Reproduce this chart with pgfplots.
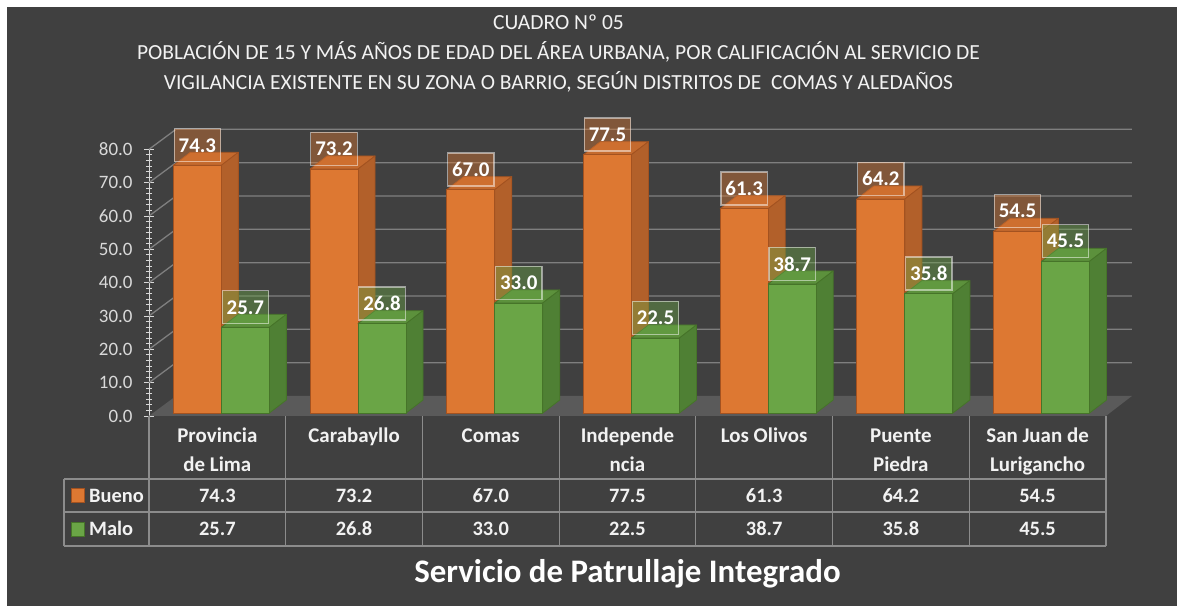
\documentclass[border=0pt]{standalone}
\usepackage{pgfplots}
\pgfplotsset{compat=1.18}
\usepackage{pgfplotstable}
\usepackage{fontspec}
\setmainfont{Carlito}
\definecolor{panel}{HTML}{404040}
\definecolor{floorc}{HTML}{5A5A5A}
\definecolor{gridc}{HTML}{7F7F7F}
\definecolor{tablec}{HTML}{8C8C8C}
\definecolor{txt}{HTML}{F2F2F2}
\definecolor{ticktxt}{HTML}{D9D9D9}
\definecolor{oF}{HTML}{DD7832}
\definecolor{oS}{HTML}{B2602A}
\definecolor{oT}{HTML}{C46A2E}
\definecolor{oE}{HTML}{A35220}
\definecolor{gF}{HTML}{6AA546}
\definecolor{gS}{HTML}{4F8034}
\definecolor{gT}{HTML}{5C913C}
\definecolor{gE}{HTML}{467429}

\pgfdeclareplotmark{void}{}

\pgfplotstableread{
x bueno malo
0 74.3 25.7
1 73.2 26.8
2 67.0 33.0
3 77.5 22.5
4 61.3 38.7
5 64.2 35.8
6 54.5 45.5
}\datatable

\pgfplotsset{
  box3d/.style n args={6}{%
    scatter, only marks, mark=void, point meta=y,
    visualization depends on={y \as \val},
    scatter/@pre marker code/.code={%
      \pgfmathsetmacro\bh{\val*3.33333}%
      \filldraw[fill=#5, draw=#6, line width=0.8bp, line join=round]
        (#1bp,3bp) -- ({#1bp+17bp},16bp) -- ({#2bp+17bp},16bp) -- (#2bp,3bp) -- cycle;
      \filldraw[fill=#4, draw=#6, line width=0.8bp, line join=round]
        (#2bp,{3bp-\bh bp}) -- ({#2bp+17bp},{16bp-\bh bp}) -- ({#2bp+17bp},16bp) -- (#2bp,3bp) -- cycle;
      \filldraw[fill=#3, draw=#6, line width=0.8bp]
        (#1bp,{3bp-\bh bp}) rectangle (#2bp,3bp);
    },
    scatter/@post marker code/.code={},
  },
  lab3d/.style n args={2}{%
    scatter, only marks, mark=void, point meta=y,
    visualization depends on={y \as \val},
    scatter/@pre marker code/.code={%
      \node[anchor=south, fill=#2, fill opacity=0.42, draw=white, draw opacity=0.5,
        text opacity=1, text=white, line width=1.2bp, inner xsep=4.5bp, inner ysep=0pt,
        minimum height=33bp, font=\fontsize{21}{22}\selectfont\bfseries]
        at (#1bp,6bp) {\pgfmathprintnumber[fixed,fixed zerofill,precision=1,assume math mode=true]{\val}};
    },
    scatter/@post marker code/.code={},
  },
}

\begin{document}
\begin{tikzpicture}[x=1bp,y=1bp]
\useasboundingbox (0,0) rectangle (1177,606);
\fill[white] (0,0) rectangle (1177,606);
\fill[panel] (7,0) rectangle (1177,599);

% titles
\node[anchor=base, text=txt, font=\fontsize{21.6}{24}\selectfont] at (558.5,576) {CUADRO Nº 05};
\node[anchor=base, text=txt, font=\fontsize{21.6}{24}\selectfont] at (558.5,546.5) {POBLACIÓN DE 15 Y MÁS AÑOS DE EDAD DEL ÁREA URBANA, POR CALIFICACIÓN AL SERVICIO DE};
\node[anchor=base, text=txt, font=\fontsize{21.6}{24}\selectfont] at (558.5,516.7) {VIGILANCIA EXISTENTE EN SU ZONA O BARRIO, SEGÚN DISTRITOS DE \ COMAS Y ALEDAÑOS};

\begin{axis}[
  at={(149bp,190bp)}, anchor=south west,
  x=136.7bp, y=3.33333bp,
  xmin=-0.5, xmax=6.5, ymin=0, ymax=80,
  clip=false,
  axis x line=none, axis y line*=left,
  axis line style={color=ticktxt, line width=0.9bp},
  ytick={0,10,...,80}, minor y tick num=5,
  tick align=center, major tick length=10bp, minor tick length=6bp,
  tick style={color=ticktxt, line width=0.9bp},
  yticklabel style={font=\fontsize{19}{20}\selectfont, text=ticktxt, xshift=-8bp},
  /pgf/number format/.cd, fixed, fixed zerofill, precision=1, assume math mode=true,
]
% floor
\fill[floorc] (axis cs:-0.5,0) -- (axis cs:6.5,0) -- ([shift={(26bp,20bp)}]axis cs:6.5,0) -- ([shift={(27bp,20bp)}]axis cs:-0.5,0) -- cycle;
% grid
\pgfplotsinvokeforeach{10,20,30,40,50,60,70,80}{
  \draw[gridc, line width=1.3bp] (axis cs:-0.5,#1) -- ([shift={(27bp,20bp)}]axis cs:-0.5,#1) -- ([shift={(26bp,20bp)}]axis cs:6.5,#1);
}
\addplot[box3d={-44}{4}{oF}{oS}{oT}{oE}] table[x=x, y=bueno] {\datatable};
\addplot[box3d={4}{52}{gF}{gS}{gT}{gE}] table[x=x, y=malo] {\datatable};
\addplot[lab3d={-20}{oF}] table[x=x, y=bueno] {\datatable};
\addplot[lab3d={28}{gF}] table[x=x, y=malo] {\datatable};
\end{axis}

% data table
\begin{scope}[tablec, line width=1.2bp]
\draw (64,127) -- (1106,127);
\draw (64,94) -- (1106,94);
\draw (64,60) -- (1106,60);
\draw (64,127) -- (64,60);
\foreach \k in {0,...,7} \draw ({149+136.7*\k},190) -- ({149+136.7*\k},60);
\end{scope}

\foreach \i/\a/\b in {0/Provincia/de Lima, 1/Carabayllo/, 2/Comas/, 3/Independe/ncia, 4/Los Olivos/, 5/Puente/Piedra, 6/San Juan de/Lurigancho} {
  \node[anchor=base, text=txt, font=\fontsize{21}{24}\selectfont\bfseries, inner sep=0pt] at ({217.35+136.7*\i},163) {\a};
  \node[anchor=base, text=txt, font=\fontsize{21}{24}\selectfont\bfseries, inner sep=0pt] at ({217.35+136.7*\i},134) {\b};
}

\foreach \i in {0,...,6} {
  \pgfplotstablegetelem{\i}{bueno}\of\datatable
  \node[anchor=base, text=txt, font=\fontsize{20.5}{24}\selectfont\bfseries, inner sep=0pt] at ({217.35+136.7*\i},103.5) {\pgfmathprintnumber[fixed,fixed zerofill,precision=1,assume math mode=true]{\pgfplotsretval}};
  \pgfplotstablegetelem{\i}{malo}\of\datatable
  \node[anchor=base, text=txt, font=\fontsize{20.5}{24}\selectfont\bfseries, inner sep=0pt] at ({217.35+136.7*\i},70) {\pgfmathprintnumber[fixed,fixed zerofill,precision=1,assume math mode=true]{\pgfplotsretval}};
}

% legend keys
\filldraw[fill=oF, draw=oE, line width=0.8bp] (71,104) rectangle (84,118);
\filldraw[fill=gF, draw=gE, line width=0.8bp] (71,70) rectangle (84,84);
\node[anchor=base west, text=txt, font=\fontsize{20.5}{24}\selectfont\bfseries, inner sep=0pt] at (89,103.5) {Bueno};
\node[anchor=base west, text=txt, font=\fontsize{20.5}{24}\selectfont\bfseries, inner sep=0pt] at (89,70) {Malo};

% bottom title
\node[anchor=base, text=white, font=\fontsize{33}{36}\selectfont\bfseries, inner sep=0pt] at (627.5,23) {Servicio de Patrullaje Integrado};
\end{tikzpicture}
\end{document}
